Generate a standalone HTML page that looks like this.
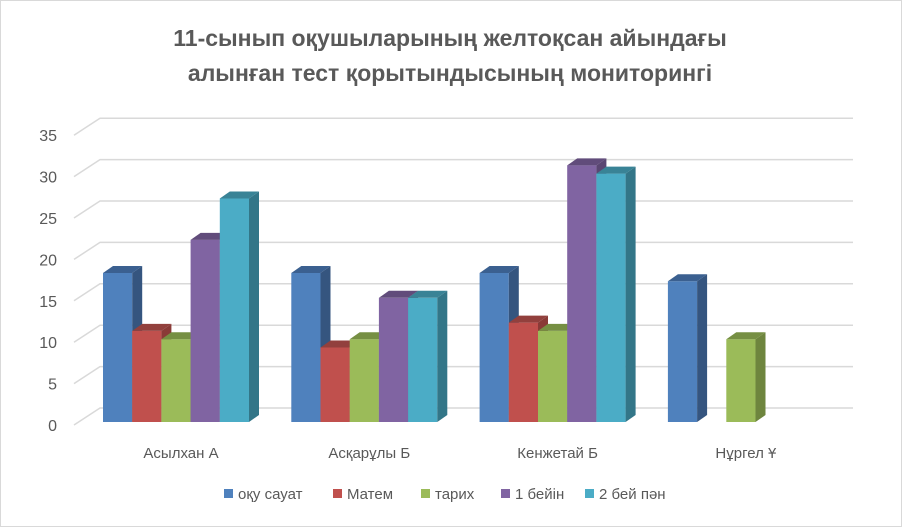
<!DOCTYPE html>
<html><head><meta charset="utf-8"><style>
body{margin:0;background:#fff;}
svg{display:block;font-family:"Liberation Sans",sans-serif;}
</style></head><body>
<svg id="chart" width="902" height="527" viewBox="0 0 902 527">
<rect x="0.5" y="0.5" width="901" height="526" fill="#fff" stroke="#d9d9d9"/>
<text x="450" y="46" text-anchor="middle" font-size="23" font-weight="bold" fill="#595959">11-сынып оқушыларының желтоқсан айындағы</text>
<text x="450" y="81" text-anchor="middle" font-size="23" font-weight="bold" fill="#595959">алынған тест қорытындысының мониторингі</text>
<g id="grid"></g><g id="bars"></g><g id="labels"></g><g id="legend"></g>
</svg>
<script>
const categories=["Асылхан А","Асқарұлы Б","Кенжетай Б","Нұргел Ұ"];
const seriesNames=["оқу сауат","Матем","тарих","1 бейін","2 бей пән"];
const s1=[18,18,18,17];
const s2=[11,9,12,0];
const s3=[10,10,11,10];
const s4=[22,15,31,0];
const s5=[27,15,30,0];
const yTicks=[0,5,10,15,20,25,30,35];
const series=[s1,s2,s3,s4,s5];
const colors=[["#4F81BD","#3B6090","#35557f"],["#C0504D","#92403d","#8a3a37"],["#9BBB59","#768f43","#6e853e"],["#8064A2","#614c7b","#5a4672"],["#4BACC6","#398396","#337688"]];
const NS="http://www.w3.org/2000/svg";
const base=422, unit=8.28, dx=10, dy=-7, bw=29.2, g0=103, gs=188.3;
const y=v=>base-v*unit;
const grid=document.getElementById('grid'),bars=document.getElementById('bars'),labels=document.getElementById('labels'),legend=document.getElementById('legend');
function mk(tag,attrs,parent){const e=document.createElementNS(NS,tag);for(const k in attrs)e.setAttribute(k,attrs[k]);parent.appendChild(e);return e;}
yTicks.forEach(t=>{
  const fy=y(t)+3, by=fy-17;
  const p=mk('polyline',{points:`74,${fy} 100,${by} 853,${by}`,fill:'none',stroke:'#d9d9d9','stroke-width':1.5},grid);
  
  
  const tx=mk('text',{x:57,y:fy+6,'text-anchor':'end','font-size':16,fill:'#595959'},labels);
  tx.textContent=t;
  
  
});
categories.forEach((c,i)=>{
  series.forEach((s,j)=>{
    const v=s[i]; if(!v) return;
    const x0=g0+i*gs+j*bw, x1=x0+bw, yt=y(v);
    const g=mk('g',{},bars);
    
    
    mk('rect',{x:x0,y:yt,width:bw,height:base-yt,fill:colors[j][0]},g);
    mk('polygon',{points:`${x1},${yt} ${x1+dx},${yt+dy} ${x1+dx},${base+dy} ${x1},${base}`,fill:colors[j][2]},g);
    mk('polygon',{points:`${x0},${yt} ${x0+dx},${yt+dy} ${x1+dx},${yt+dy} ${x1},${yt}`,fill:colors[j][1]},g);
  });
  const t=mk('text',{x:g0+i*gs+73+5,y:458,'text-anchor':'middle','font-size':15,fill:'#595959'},labels);
  t.textContent=c;
  
  
});
const lx=[224,333,421,501,585];
seriesNames.forEach((n,j)=>{
  const g=mk('g',{},legend);
  
  
  mk('rect',{x:lx[j],y:489,width:9,height:9,fill:colors[j][0]},g);
  const t=mk('text',{x:lx[j]+14,y:499,'font-size':15,fill:'#595959'},g);
  t.textContent=n;
});
</script>
</body></html>
